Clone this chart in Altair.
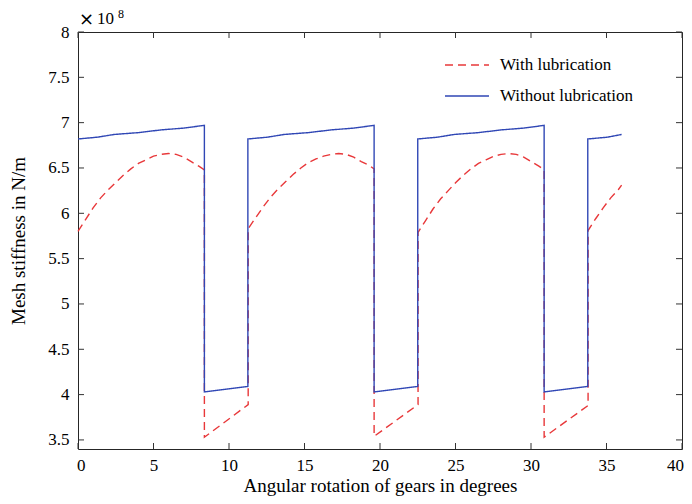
import altair as alt
import pandas as pd

# ---- data ----
series_names = ["With lubrication", "Without lubrication"]

red_x = [0, 0.5, 1, 1.5, 2, 2.5, 3, 3.5, 4, 4.5, 5, 5.5, 6, 6.5, 7, 7.5, 8, 8.37,
         8.37, 11.27, 11.27,
         11.76, 12.26, 12.76, 13.26, 13.76, 14.26, 14.76, 15.26, 15.76, 16.26, 16.76, 17.26,
         17.76, 18.26, 18.76, 19.26, 19.61,
         19.61, 22.52, 22.52,
         23.02, 23.52, 24.02, 24.52, 25.02, 25.52, 26.02, 26.52, 27.02, 27.52, 28.02, 28.52,
         29.02, 29.52, 30.02, 30.52, 30.87,
         30.87, 33.78, 33.78,
         34.28, 34.78, 35.28, 35.78, 36.0]
red_y = [5.80, 5.93, 6.06, 6.17, 6.26, 6.34, 6.42, 6.49, 6.55, 6.59, 6.63, 6.65, 6.66, 6.65, 6.62, 6.57, 6.52, 6.48,
         3.53, 3.89, 5.83,
         5.95, 6.07, 6.18, 6.27, 6.35, 6.43, 6.50, 6.56, 6.60, 6.63, 6.65, 6.66,
         6.65, 6.62, 6.57, 6.53, 6.49,
         3.54, 3.89, 5.79,
         5.92, 6.05, 6.16, 6.25, 6.34, 6.42, 6.49, 6.55, 6.59, 6.63, 6.65, 6.66,
         6.65, 6.62, 6.57, 6.52, 6.48,
         3.53, 3.88, 5.81,
         5.94, 6.06, 6.17, 6.26, 6.31]

blue_x = [0, 1.3, 2.4, 4, 5.5, 7, 8.37, 8.37, 11.25, 11.25,
          12.56, 13.66, 15.26, 16.76, 18.26, 19.61, 19.61, 22.5, 22.5,
          23.82, 24.92, 26.52, 28.02, 29.52, 30.87, 30.87, 33.76, 33.76,
          35.08, 36.0]
blue_y = [6.82, 6.84, 6.87, 6.89, 6.92, 6.94, 6.97, 4.03, 4.09, 6.82,
          6.84, 6.87, 6.89, 6.92, 6.94, 6.97, 4.03, 4.09, 6.82,
          6.84, 6.87, 6.89, 6.92, 6.94, 6.97, 4.03, 4.09, 6.82,
          6.84, 6.87]

x_ticks = [0, 5, 10, 15, 20, 25, 30, 35, 40]
y_ticks = [3.5, 4, 4.5, 5, 5.5, 6, 6.5, 7, 7.5, 8]

rows = []
for i, (xv, yv) in enumerate(zip(red_x, red_y)):
    rows.append({"x": xv, "y": yv, "series": series_names[0], "idx": i})
for i, (xv, yv) in enumerate(zip(blue_x, blue_y)):
    rows.append({"x": xv, "y": yv, "series": series_names[1], "idx": i})
df = pd.DataFrame(rows)
xt = pd.DataFrame({"t": x_ticks})
yt = pd.DataFrame({"t": y_ticks})

W, H = 604, 417
TL = 6
FONT = "Liberation Serif"
AX = "#262626"

xscale = alt.Scale(domain=[0, 40], nice=False, zero=False)
yscale = alt.Scale(domain=[3.4, 8], nice=False, zero=False)

leg = alt.Legend(orient="none", legendX=366, legendY=10, title=None,
                 symbolType="stroke", symbolSize=1936, symbolStrokeWidth=1.4,
                 labelFont=FONT, labelFontSize=17, labelOffset=10,
                 labelColor="black", rowPadding=-20, padding=0)

lines = alt.Chart(df).mark_line(strokeWidth=1.4).encode(
    x=alt.X("x:Q", scale=xscale,
            axis=alt.Axis(orient="bottom", values=x_ticks, tickSize=0, domain=False, grid=False,
                          labelPadding=8, labelFontSize=17, format="~g",
                          labelFlush=True, labelFlushOffset=1.5,
                          labelFont=FONT, titleFont=FONT, labelColor="black", titleColor="black",
                          title="Angular rotation of gears in degrees", titleFontSize=19,
                          titlePadding=3, titleFontWeight="normal")),
    y=alt.Y("y:Q", scale=yscale,
            axis=alt.Axis(orient="left", values=y_ticks, tickSize=0, domain=False, grid=False,
                          labelPadding=9, labelFontSize=17, format="~g", labelFlush=False,
                          labelFont=FONT, titleFont=FONT, labelColor="black", titleColor="black",
                          title="Mesh stiffness in N/m", titleFontSize=19,
                          titlePadding=19, titleFontWeight="normal")),
    color=alt.Color("series:N",
                    scale=alt.Scale(domain=series_names, range=["#e8383a", "#3047b5"]),
                    legend=leg),
    strokeDash=alt.StrokeDash("series:N",
                              scale=alt.Scale(domain=series_names, range=[[8, 5], [1, 0]]),
                              legend=leg),
    order="idx:Q",
)

tick_mark = dict(color="#333333", strokeWidth=1)
ticks_bottom = alt.Chart(xt).mark_rule(**tick_mark).encode(
    x=alt.X("t:Q", scale=xscale), y=alt.value(H), y2=alt.value(H - TL))
ticks_top = alt.Chart(xt).mark_rule(**tick_mark).encode(
    x=alt.X("t:Q", scale=xscale), y=alt.value(0), y2=alt.value(TL))
ticks_left = alt.Chart(yt).mark_rule(**tick_mark).encode(
    y=alt.Y("t:Q", scale=yscale), x=alt.value(0), x2=alt.value(TL))
ticks_right = alt.Chart(yt).mark_rule(**tick_mark).encode(
    y=alt.Y("t:Q", scale=yscale), x=alt.value(W), x2=alt.value(W - TL))

times_sign = alt.Chart(pd.DataFrame({"t": ["\u00d7"]})).mark_text(
    align="left", baseline="alphabetic", font="DejaVu Sans", fontSize=18, color="black"
).encode(text="t:N", x=alt.value(1), y=alt.value(-7))

ten = alt.Chart(pd.DataFrame({"t": ["10"]})).mark_text(
    align="left", baseline="alphabetic", font=FONT, fontSize=17, color="black"
).encode(text="t:N", x=alt.value(19), y=alt.value(-8))

expo = alt.Chart(pd.DataFrame({"t": ["8"]})).mark_text(
    align="left", baseline="alphabetic", font=FONT, fontSize=12, color="black"
).encode(text="t:N", x=alt.value(40), y=alt.value(-14))

chart = alt.layer(
    lines, ticks_bottom, ticks_top, ticks_left, ticks_right, times_sign, ten, expo
).properties(
    width=W, height=H,
    background="white",
    autosize=alt.AutoSizeParams(type="none"),
    padding={"left": 70, "top": 24, "right": 2, "bottom": 50},
).configure_view(
    stroke=AX, strokeWidth=1
).configure_axis(
    labelFont=FONT, titleFont=FONT, labelColor="black", titleColor="black"
)

chart.save("out.html", embed_options={"renderer": "svg", "actions": False})
